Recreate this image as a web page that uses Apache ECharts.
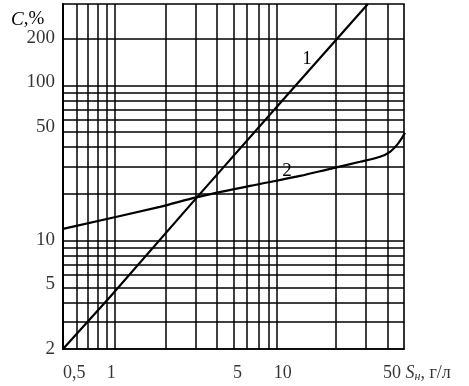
<!DOCTYPE html>
<html><head><meta charset="utf-8">
<script src="https://cdn.jsdelivr.net/npm/echarts@6/dist/echarts.min.js"></script>
<style>html,body{margin:0;padding:0;background:#fff}#c{width:469px;height:386px}</style>
</head><body><div id="c"></div>
<script>
// axis ranges
const xMin = 0.5, xMax = 50, yMin = 2, yMax = 335;
// grid lines
const xGrid = [0.6, 0.7, 0.8, 0.9, 1, 2, 3, 4, 5, 6, 7, 8, 9, 20, 30, 40];
const yGrid = [3, 4, 5, 6, 7, 8, 9, 10, 20, 30, 40, 50, 60, 70, 80, 90, 100, 200];
// tick labels
const xTicks = [0.5, 1, 5, 10, 50];
const xTickLabels = ['0,5', '1', '5', '10', '50'];
const yTicks = [2, 5, 10, 50, 100, 200];
const yTickLabels = ['2', '5', '10', '50', '100', '200'];
// curves
const curve1 = [[0.5, 2], [0.943, 4.33], [3.06, 19.06], [11.4, 98], [30.7, 335]];
const curve2 = [[0.5, 11.9], [1.85, 16.5], [3.06, 19.06], [6.25, 22.5], [12.3, 26.1], [18.4, 29.0], [27.6, 32.2], [36.2, 34.7], [41.4, 37.3], [45.5, 41.4], [48.7, 45.9], [50.6, 49.5]];
const curveNames = ['1', '2'];
const curveLabelPos = [[13.5, 148.6], [10.3, 28.1]];

const FONT = 'Liberation Serif';
const chart = echarts.init(document.getElementById('c'), null, {renderer: 'canvas'});

const xLabelStyle = [
  {align: 'left', offset: [0, 0]},
  {offset: [-3, 0]},
  {offset: [4, 0]},
  {offset: [-2, 0]},
  {align: 'left', offset: [-21, 0]}
];
const yLabelOffset = [[0, 0], [0, -3], [0, -1], [0, -5], [0, -3], [0, -1]];

const option = {
  animation: false,
  backgroundColor: '#fff',
  title: {
    text: '{i|C}{t|,%}',
    left: 6, top: 5,
    textStyle: {
      fontWeight: 'normal',
      rich: {
        i: {fontFamily: FONT, fontSize: 19, fontStyle: 'italic', fontWeight: 'normal', color: '#000'},
        t: {fontFamily: FONT, fontSize: 19, fontWeight: 'normal', color: '#000'}
      }
    }
  },
  grid: {left: 63, right: 65, top: 4, bottom: 37, show: true, borderColor: '#000', borderWidth: 1.6, containLabel: false},
  xAxis: {
    type: 'log', logBase: 10, min: xMin, max: xMax,
    axisLine: {show: true, lineStyle: {color: '#000', width: 1.6}},
    axisTick: {show: false}, axisLabel: {show: false},
    splitLine: {show: false}, minorSplitLine: {show: false}
  },
  yAxis: {
    type: 'log', logBase: 10, min: yMin, max: yMax,
    axisLine: {show: true, lineStyle: {color: '#000', width: 2}},
    axisTick: {show: false}, axisLabel: {show: false},
    splitLine: {show: false}
  },
  series: [
    {
      name: curveNames[0], type: 'line', data: curve1, symbol: 'none', clip: false,
      lineStyle: {color: '#000', width: 2.2},
      silent: true,
      markLine: {
        silent: true, symbol: ['none', 'none'], animation: false,
        label: {show: false},
        lineStyle: {color: '#000', width: 1.5, type: 'solid'},
        emphasis: {disabled: true},
        data: xGrid.map(v => ({xAxis: v})).concat(yGrid.map(v => ({yAxis: v})))
      },
      markPoint: {
        symbol: 'circle', symbolSize: 0, silent: true,
        label: {show: true, formatter: curveNames[0], fontFamily: FONT, fontSize: 19, color: '#000', position: 'inside'},
        data: [{coord: curveLabelPos[0]}]
      }
    },
    {
      name: curveNames[1], type: 'line', data: curve2, symbol: 'none', smooth: 0.3, clip: false,
      lineStyle: {color: '#000', width: 2.2},
      silent: true,
      markPoint: {
        symbol: 'circle', symbolSize: 0, silent: true,
        label: {show: true, formatter: curveNames[1], fontFamily: FONT, fontSize: 19, color: '#000', position: 'inside'},
        data: [{coord: curveLabelPos[1]}]
      }
    },
    {
      type: 'scatter', symbolSize: 0, clip: false, silent: true,
      data: xTicks.map((v, i) => ({
        value: [v, yMin],
        label: Object.assign({
          show: true, position: 'bottom', distance: 15,
          formatter: i === xTicks.length - 1
            ? '{t|' + xTickLabels[i] + ' }{i|S}{s|н}{t|, г/л}'
            : xTickLabels[i],
          fontFamily: FONT, fontSize: 18, color: '#000',
          rich: {
            t: {fontFamily: FONT, fontSize: 18, color: '#000'},
            i: {fontFamily: FONT, fontSize: 18, fontStyle: 'italic', color: '#000'},
            s: {fontFamily: FONT, fontSize: 12, fontStyle: 'italic', color: '#000', padding: [7, 0, 0, 0]}
          }
        }, xLabelStyle[i])
      }))
    },
    {
      type: 'scatter', symbolSize: 0, clip: false, silent: true,
      data: yTicks.map((v, i) => ({
        value: [xMin, v],
        label: {
          show: true, position: 'left', distance: 8, offset: yLabelOffset[i],
          formatter: yTickLabels[i],
          fontFamily: FONT, fontSize: 19, color: '#000'
        }
      }))
    }
  ]
};
chart.setOption(option);
</script>
</body></html>
